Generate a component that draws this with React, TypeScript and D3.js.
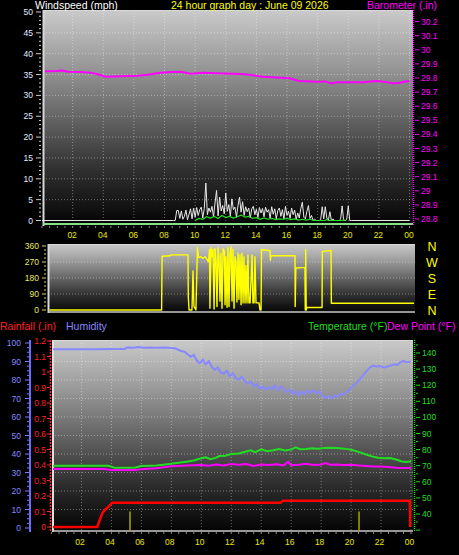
import React from 'react';
import * as d3 from 'd3';

// ---------- DATA ----------
const hourTicks = [2, 4, 6, 8, 10, 12, 14, 16, 18, 20, 22, 24];
const hourLabels = ['02', '04', '06', '08', '10', '12', '14', '16', '18', '20', '22', '00'];
const windTicks = [0, 5, 10, 15, 20, 25, 30, 35, 40, 45, 50];
const baroTicks = [28.8, 28.9, 29.0, 29.1, 29.2, 29.3, 29.4, 29.5, 29.6, 29.7, 29.8, 29.9, 30.0, 30.1, 30.2];
const baroLabels = ['28.8', '28.9', '29', '29.1', '29.2', '29.3', '29.4', '29.5', '29.6', '29.7', '29.8', '29.9', '30', '30.1', '30.2'];
const dirTicks = [0, 90, 180, 270, 360];
const compassLabels = ['N', 'E', 'S', 'W', 'N'];
const humTicks = [0, 10, 20, 30, 40, 50, 60, 70, 80, 90, 100];
const rainTicks = [0, 0.1, 0.2, 0.3, 0.4, 0.5, 0.6, 0.7, 0.8, 0.9, 1.0, 1.1, 1.2];
const rainLabels = ['0', '0.1', '0.2', '0.3', '0.4', '0.5', '0.6', '0.7', '0.8', '0.9', '1', '1.1', '1.2'];
const tempTicks = [40, 50, 60, 70, 80, 90, 100, 110, 120, 130, 140];

// barometer [hour, inHg]
const barometer: [number, number][] = [
  [0.2, 29.848], [1.0, 29.85], [1.34, 29.853], [1.67, 29.845], [2.5, 29.842], [3.17, 29.838], [3.7, 29.825],
  [4.15, 29.809], [5.13, 29.812], [6.24, 29.816], [6.9, 29.823], [7.74, 29.838], [8.5, 29.842], [9.05, 29.845],
  [9.7, 29.83], [10.55, 29.838], [11.4, 29.834], [12.3, 29.83], [13.0, 29.828], [13.55, 29.823], [14.4, 29.809],
  [15.3, 29.804], [16.17, 29.798], [16.8, 29.779], [17.9, 29.774], [18.5, 29.776], [18.9, 29.762], [19.3, 29.77],
  [21.0, 29.77], [21.8, 29.778], [22.2, 29.776], [22.9, 29.762], [23.3, 29.765], [23.8, 29.777], [24.0, 29.775],
];

// gust samples every 0.1 h starting 8.7 h
const gustStart = 8.7;
const gustValues = [
  0, 2.4, 2.4, 0.5, 2.3, 0.3, 1.0, 2.5, 0.2, 1.5, 2.8, 0.4, 3.0,
  0.8, 3.1, 1.2, 2.6, 3.2, 0.6, 2.9, 9.0, 1.4, 3.0,
  2.0, 3.4, 0.9, 4.2, 7.2, 1.1, 5.6, 2.3, 3.6, 1.6,
  6.6, 2.2, 3.8, 1.0, 5.2, 2.6, 3.2, 0.8, 3.6, 5.6,
  2.0, 4.5, 1.2, 3.3, 2.1, 3.0, 0.6, 2.8, 3.4, 1.4,
  2.7, 0.7, 3.1, 1.8, 2.9, 0.9, 3.2, 2.0, 2.6, 0.5,
  3.3, 1.5, 2.8, 0.4, 2.4, 3.0, 1.0, 2.6, 0.3, 3.4,
  1.2, 2.2, 0.5, 3.0, 1.4, 2.5, 0.2, 1.8, 0.6, 2.8,
  4.4, 0.8, 0.4, 2.2, 3.6, 0.5, 1.2, 0, 0.3, 0,
  0, 0, 0.2, 3.3, 0.4, 3.3, 0.6, 0, 2.1, 0,
  0.4, 0, 0, 0, 0, 0.3, 3.5, 0, 0, 0.2,
  3.5, 0, 0,
];

// average wind [hour, mph]
const avgWind: [number, number][] = [
  [10.0, 0], [10.25, 0.5], [10.5, 0.3], [10.75, 0.9], [11.0, 0.6], [11.25, 1.0], [11.5, 0.5], [11.75, 1.2],
  [12.0, 0.7], [12.25, 1.0], [12.5, 0.6], [12.75, 0.9], [13.0, 1.3], [13.25, 0.8], [13.5, 1.0], [13.75, 0.5],
  [14.0, 0.7], [14.25, 0.3], [14.5, 0.6], [14.75, 0.3], [15.0, 0.5], [15.25, 0.2], [15.5, 0.4], [15.75, 0.3],
  [16.0, 0.5], [16.25, 0.2], [16.5, 0.4], [16.75, 0.1], [17.0, 0.3], [17.25, 0.1], [17.5, 0.3], [17.75, 0],
  [18.5, 0], [18.6, 0.3], [18.7, 0], [19.6, 0], [19.7, 0.2], [19.8, 0],
];

// wind direction [hour, degrees]
const windDir: [number, number][] = [
  [0.1, 0], [7.45, 0], [7.48, 302], [8.0, 305], [8.1, 310], [9.18, 310], [9.2, 75], [9.25, 0], [9.44, 0],
  [9.51, 220], [9.57, 20], [9.7, 0], [9.8, 350], [9.87, 295], [10.03, 300], [10.16, 290], [10.3, 300],
  [10.43, 285], [10.52, 270], [10.59, 340], [10.62, 10], [10.69, 350], [10.75, 300], [10.82, 340], [10.89, 5],
  [10.95, 345], [11.02, 280], [11.08, 20], [11.15, 350], [11.21, 300], [11.28, 50], [11.34, 320], [11.41, 10],
  [11.48, 345], [11.57, 330], [11.61, 30], [11.67, 300], [11.74, 15], [11.8, 350], [11.87, 20], [11.93, 310],
  [12.0, 355], [12.07, 50], [12.13, 340], [12.2, 10], [12.26, 300], [12.33, 270], [12.39, 45], [12.46, 320],
  [12.52, 60], [12.59, 310], [12.66, 30], [12.72, 320], [12.79, 40], [12.85, 300], [12.92, 40], [12.98, 250],
  [13.05, 40], [13.11, 310], [13.18, 40], [13.25, 40], [13.38, 310], [13.44, 40], [13.51, 40], [13.57, 300],
  [13.64, 40], [13.84, 40], [13.9, 0], [13.97, 0], [14.0, 340], [14.5, 335], [14.56, 335], [14.58, 280],
  [14.62, 305], [16.2, 305], [16.21, 20], [16.25, 236], [16.85, 240], [16.87, 0], [16.9, 340], [16.93, 0],
  [16.97, 14], [17.97, 14], [17.99, 330], [18.56, 335], [18.58, 38], [24.0, 38],
];

// humidity [hour, %]
const humidity: [number, number][] = [
  [0.1, 96.6], [1, 96.6], [2, 96.6], [3, 96.6], [4, 96.7], [4.9, 96.7], [5.0, 97.5], [5.5, 97.4], [5.8, 97.8],
  [6.2, 97.4], [6.6, 97.6], [7, 97.5], [7.5, 97.6], [8.0, 97.3], [8.3, 97.0], [8.6, 95.8], [8.9, 95.2],
  [9.1, 93.8], [9.3, 92.5], [9.5, 93.5], [9.7, 90.5], [9.9, 89.0], [10.1, 91.0], [10.3, 88.5], [10.5, 90.2],
  [10.7, 87.0], [10.9, 85.5], [11.1, 86.8], [11.3, 84.0], [11.5, 83.5], [11.7, 85.0], [11.9, 82.0], [12.1, 83.6],
  [12.3, 81.0], [12.5, 80.2], [12.7, 81.8], [12.9, 79.5], [13.1, 78.0], [13.3, 79.2], [13.5, 76.5], [13.7, 77.8],
  [13.9, 75.2], [14.1, 76.5], [14.3, 74.8], [14.5, 76.2], [14.7, 75.0], [14.9, 77.0], [15.1, 74.5], [15.3, 76.5],
  [15.5, 75.2], [15.7, 73.5], [15.9, 74.8], [16.1, 72.5], [16.3, 74.0], [16.5, 71.8], [16.7, 73.8], [16.9, 72.2],
  [17.1, 74.5], [17.3, 73.0], [17.5, 74.5], [17.7, 72.8], [17.9, 73.8], [18.1, 71.5], [18.3, 70.2], [18.5, 71.2],
  [18.7, 70.0], [18.9, 71.8], [19.1, 71.0], [19.3, 72.5], [19.5, 72.2], [19.7, 73.5], [19.9, 75.0], [20.1, 76.8],
  [20.3, 78.0], [20.5, 79.5], [20.7, 81.5], [20.9, 83.5], [21.1, 85.5], [21.3, 87.0], [21.5, 87.8], [21.7, 87.2],
  [21.9, 87.5], [22.1, 87.0], [22.3, 86.8], [22.5, 87.5], [22.7, 88.0], [22.9, 88.5], [23.1, 88.2], [23.3, 89.5],
  [23.5, 90.3], [23.7, 89.6], [23.9, 89.8], [24, 90.0],
];

// temperature [hour, °F]
const temperature: [number, number][] = [
  [0.1, 70], [1, 70], [2, 70], [3, 70], [3.8, 69.9], [4.2, 68.8], [5, 68.8], [5.6, 68.9], [6, 69.8], [7, 70.2],
  [8, 71.2], [8.5, 71.8], [9, 72.5], [9.5, 73.2], [10, 74.6], [10.3, 75.2], [10.6, 74], [11, 75], [11.2, 76],
  [11.6, 76.2], [12, 77.3], [12.5, 77.6], [13, 78.8], [13.3, 79.5], [13.6, 78.4], [14, 80.2], [14.4, 79.0],
  [14.8, 79.6], [15.2, 80.4], [15.6, 79.5], [16, 80.0], [16.3, 81.4], [16.6, 80.2], [17, 80.4], [17.4, 80.9],
  [17.8, 80.5], [18.2, 81.0], [18.6, 81.1], [19, 81.0], [19.4, 80.7], [19.8, 80.3], [20.2, 79.4], [20.6, 78.3],
  [21, 77.0], [21.4, 75.8], [21.8, 74.9], [22.2, 74.6], [22.6, 74.8], [23, 73.8], [23.4, 72.6], [23.7, 72.3],
  [24, 72.8],
];

// dew point [hour, °F]
const dewPoint: [number, number][] = [
  [0.1, 68], [2, 68], [3.5, 68], [4, 67.4], [5.5, 67.3], [6, 67.8], [7, 68.4], [8, 69.6], [9, 70.2], [10, 70.5],
  [10.5, 70.0], [11, 70.8], [11.5, 70.2], [12, 71.1], [12.5, 70.6], [13, 71.0], [13.5, 69.8], [14, 70.8],
  [14.5, 70.4], [15, 70.9], [15.5, 70.2], [15.8, 72.4], [16, 70.3], [16.5, 70.6], [17, 71.2], [17.5, 70.4],
  [18, 70.8], [18.3, 71.6], [18.6, 70.6], [19, 70.7], [19.5, 70.4], [20, 70.6], [20.5, 70.1], [21, 69.8],
  [21.5, 69.5], [22, 69.5], [22.5, 69.2], [23, 68.8], [23.5, 68.6], [24, 68.5],
];

// rainfall [hour, in]
const rainfall: [number, number][] = [
  [0.1, 0], [3.05, 0], [3.2, 0.04], [3.4, 0.09], [3.55, 0.11], [3.8, 0.13], [4.05, 0.157], [15.3, 0.157],
  [15.45, 0.17], [23.92, 0.17], [23.95, 0],
];

// rain rate bars [hour, value]
const rainRate: [number, number][] = [[5.24, 0.1], [20.53, 0.1]];

// ---------- LAYOUT ----------
const W = 459, H = 555;
const FONT = "'Liberation Sans', Arial, sans-serif";

const top = { x0: 43, x1: 413, y0: 10, y1: 226 };
const mid = { x0: 48, x1: 415, y0: 244, y1: 313 };
const bot = { x0: 52, x1: 413, y0: 340, y1: 532 };

const xTop = d3.scaleLinear().domain([0, 24]).range([42, 409.5]);
const xMid = d3.scaleLinear().domain([0, 24]).range([48, 414]);
const xBot = d3.scaleLinear().domain([0, 24]).range([51.5, 411]);

const yWind = d3.scaleLinear().domain([0, 50]).range([220.5, 12]);
const yBaro = d3.scaleLinear().domain([28.8, 30.2]).range([219, 21.6]);
const yDir = d3.scaleLinear().domain([0, 360]).range([310, 246]);
const yRain = d3.scaleLinear().domain([0, 1.2]).range([527, 341]);
const yHum = d3.scaleLinear().domain([0, 100]).range([528, 343]);
const yTemp = d3.scaleLinear().domain([40, 140]).range([514, 353]);

function lineOf(data: [number, number][], x: d3.ScaleLinear<number, number>, y: d3.ScaleLinear<number, number>) {
  return d3.line<[number, number]>().x(d => x(d[0])).y(d => y(d[1]))(data) || '';
}

const gustSeries: [number, number][] = [
  [0, 0], [gustStart - 0.1, 0],
  ...gustValues.map((v, i) => [gustStart + i * 0.1, v] as [number, number]),
  [24, 0],
];

const halfHours = d3.range(0, 48.5, 1).map(i => i / 2);

function PanelBg({ id, p }: { id: string; p: { x0: number; x1: number; y0: number; y1: number } }) {
  return (
    <>
      <defs>
        <linearGradient id={id} x1="0" y1="0" x2="0" y2="1">
          <stop offset="0" stopColor="#cacaca" />
          <stop offset="0.25" stopColor="#9a9a9a" />
          <stop offset="0.5" stopColor="#646464" />
          <stop offset="0.75" stopColor="#2e2e2e" />
          <stop offset="1" stopColor="#030303" />
        </linearGradient>
      </defs>
      <rect x={p.x0} y={p.y0} width={p.x1 - p.x0} height={p.y1 - p.y0} fill={`url(#${id})`} />
    </>
  );
}

export default function App() {
  const gridStroke = 'rgba(255,255,255,0.38)';
  return (
    <svg width={W} height={H} style={{ position: 'absolute', left: 0, top: 0, background: '#000' }} fontFamily={FONT}>
      <rect x={0} y={0} width={W} height={H} fill="#000" />

      {/* ===== TOP PANEL ===== */}
      <PanelBg id="gTop" p={top} />
      {windTicks.filter(t => t > 0 && t < 50).map(t => (
        <line key={'tg' + t} x1={top.x0} x2={top.x1} y1={yWind(t)} y2={yWind(t)} stroke={gridStroke} strokeDasharray="1,2" />
      ))}
      {hourTicks.map(h => (
        <line key={'tv' + h} x1={xTop(h)} x2={xTop(h)} y1={top.y0} y2={top.y1} stroke={gridStroke} strokeDasharray="1,2" />
      ))}
      {/* borders */}
      <line x1={top.x0} x2={top.x1} y1={top.y0 + 0.5} y2={top.y0 + 0.5} stroke="#d8d8d8" />
      <line x1={top.x0 + 0.5} x2={top.x0 + 0.5} y1={top.y0} y2={top.y1} stroke="#d8d8d8" strokeWidth={2} />
      <line x1={top.x0} x2={top.x1} y1={224} y2={224} stroke="#88dd88" strokeWidth={2} />
      {/* barometer */}
      <path d={lineOf(barometer, xTop, yBaro)} fill="none" stroke="#ff00ff" strokeWidth={2} />
      {/* gust */}
      <path d={lineOf(gustSeries, xTop, yWind)} fill="none" stroke="#e8e8e8" strokeWidth={1} />
      {/* average */}
      <path d={lineOf(avgWind, xTop, yWind)} fill="none" stroke="#22dd22" strokeWidth={1.2} />
      {/* left axis */}
      {d3.range(0, 51).map(v => (
        <line key={'wm' + v} x1={v % 5 === 0 ? 36 : 39} x2={41} y1={yWind(v)} y2={yWind(v)} stroke="#cccccc" />
      ))}
      {windTicks.map(t => (
        <text key={'wl' + t} x={33} y={yWind(t) + 3} fontSize={8.5} fill="#e4ecff" textAnchor="end">{t}</text>
      ))}
      {/* right axis barometer */}
      <line x1={413.5} x2={413.5} y1={top.y0} y2={top.y1} stroke="#ff00ff" strokeWidth={1.5} strokeDasharray="1,1" />
      {baroTicks.map((t, i) => (
        <g key={'bl' + t}>
          <line x1={415} x2={419} y1={yBaro(t)} y2={yBaro(t)} stroke="#ff00ff" />
          <text x={421} y={yBaro(t) + 3} fontSize={8.5} fill="#ff00ff">{baroLabels[i]}</text>
        </g>
      ))}
      {/* x ticks & labels */}
      {halfHours.map(h => (
        <line key={'tx' + h} x1={xTop(h)} x2={xTop(h)} y1={226} y2={228} stroke="#888" />
      ))}
      {hourTicks.map((h, i) => (
        <text key={'txl' + h} x={xTop(h) - 0.5} y={238} fontSize={8.5} fill="#e8e800" textAnchor="middle">{hourLabels[i]}</text>
      ))}
      {/* titles */}
      <text x={35} y={9} fontSize={10.5} fill="#ffffff">Windspeed (mph)</text>
      <text x={171} y={9} fontSize={10.5} fill="#ffff00">24 hour graph day : June 09 2026</text>
      <text x={367} y={9} fontSize={10.5} fill="#ff00ff">Barometer (.in)</text>

      {/* ===== MIDDLE PANEL ===== */}
      <PanelBg id="gMid" p={mid} />
      {dirTicks.filter(t => t > 0 && t < 360).map(t => (
        <line key={'mg' + t} x1={mid.x0} x2={mid.x1} y1={yDir(t)} y2={yDir(t)} stroke={gridStroke} strokeDasharray="1,2" />
      ))}
      <line x1={mid.x0} x2={mid.x1} y1={mid.y0 + 0.5} y2={mid.y0 + 0.5} stroke="#d8d8d8" />
      <line x1={mid.x0 + 0.5} x2={mid.x0 + 0.5} y1={mid.y0} y2={mid.y1} stroke="#d8d8d8" strokeWidth={2} />
      <line x1={mid.x0} x2={mid.x1} y1={mid.y1 - 1} y2={mid.y1 - 1} stroke="#c8c8c8" strokeWidth={1.5} />
      <path d={lineOf(windDir, xMid, yDir)} fill="none" stroke="#ffff00" strokeWidth={1.4} strokeLinejoin="round" />
      {d3.range(0, 361, 22.5).map(v => (
        <line key={'dm' + v} x1={v % 90 === 0 ? 42 : 44} x2={46} y1={yDir(v)} y2={yDir(v)} stroke="#d8d860" />
      ))}
      {dirTicks.map(t => (
        <text key={'dl' + t} x={39} y={yDir(t) + 3} fontSize={8.5} fill="#e8e860" textAnchor="end">{t}</text>
      ))}
      {dirTicks.map((t, i) => (
        <text key={'cl' + t} x={432} y={yDir(t) + 4.5} fontSize={12.5} fill="#ffff00" textAnchor="middle">{compassLabels[i]}</text>
      ))}

      {/* ===== BOTTOM PANEL ===== */}
      <PanelBg id="gBot" p={bot} />
      {humTicks.filter(t => t > 0 && t < 100).map(t => (
        <line key={'bg' + t} x1={bot.x0} x2={bot.x1} y1={yHum(t)} y2={yHum(t)} stroke={gridStroke} strokeDasharray="1,2" />
      ))}
      {hourTicks.map(h => (
        <line key={'bv' + h} x1={xBot(h)} x2={xBot(h)} y1={bot.y0} y2={bot.y1} stroke={gridStroke} strokeDasharray="1,2" />
      ))}
      <line x1={bot.x0} x2={bot.x1} y1={bot.y0 + 0.5} y2={bot.y0 + 0.5} stroke="#d8d8d8" />
      <line x1={bot.x0 + 1} x2={bot.x0 + 1} y1={bot.y0} y2={bot.y1} stroke="#e0e0e0" strokeWidth={2} />
      <line x1={bot.x0} x2={bot.x1} y1={bot.y1 - 1} y2={bot.y1 - 1} stroke="#c8c8c8" strokeWidth={1.5} />
      {/* rain rate bars */}
      {rainRate.map(([h, v]) => (
        <line key={'rr' + h} x1={xBot(h)} x2={xBot(h)} y1={yRain(v)} y2={bot.y1 - 1} stroke="#a8a800" strokeWidth={1.5} />
      ))}
      <path d={lineOf(humidity, xBot, yHum)} fill="none" stroke="#8888ff" strokeWidth={2} />
      <path d={lineOf(dewPoint, xBot, yTemp)} fill="none" stroke="#ff00ff" strokeWidth={2} />
      <path d={lineOf(temperature, xBot, yTemp)} fill="none" stroke="#22dd22" strokeWidth={2} />
      <path d={lineOf(rainfall, xBot, yRain)} fill="none" stroke="#ff0000" strokeWidth={2.5} />
      {/* humidity axis */}
      <line x1={30} x2={30} y1={bot.y0} y2={bot.y1} stroke="#6c6cff" strokeWidth={2} />
      {d3.range(0, 101, 2.5).map(v => (
        <line key={'hm' + v} x1={v % 10 === 0 ? 25 : 27} x2={29} y1={yHum(v)} y2={yHum(v)} stroke="#7c7cff" />
      ))}
      {humTicks.map(t => (
        <text key={'hl' + t} x={21} y={yHum(t) + 3} fontSize={8.5} fill="#8888ff" textAnchor="end">{t}</text>
      ))}
      {/* rain axis */}
      <line x1={50.5} x2={50.5} y1={bot.y0} y2={bot.y1} stroke="#ff2020" strokeWidth={1.5} strokeDasharray="2,1" />
      {rainTicks.map((t, i) => (
        <g key={'rl' + t}>
          <line x1={47} x2={50} y1={yRain(t)} y2={yRain(t)} stroke="#ff2020" />
          <text x={46} y={yRain(t) + 3} fontSize={8.5} fill="#ff2020" textAnchor="end">{rainLabels[i]}</text>
        </g>
      ))}
      {/* temperature axis */}
      <line x1={414.5} x2={414.5} y1={bot.y0} y2={bot.y1} stroke="#22dd22" strokeWidth={1.5} strokeDasharray="1,1" />
      {d3.range(30, 146, 5).map(v => (
        <line key={'tm' + v} x1={416} x2={v % 10 === 0 ? 420 : 418} y1={yTemp(v)} y2={yTemp(v)} stroke="#22dd22" />
      ))}
      {tempTicks.map(t => (
        <text key={'tl' + t} x={422} y={yTemp(t) + 3} fontSize={8.5} fill="#22dd22">{t}</text>
      ))}
      {/* x ticks & labels */}
      {halfHours.map(h => (
        <line key={'bx' + h} x1={xBot(h)} x2={xBot(h)} y1={532} y2={534} stroke="#888" />
      ))}
      {hourTicks.map((h, i) => (
        <text key={'bxl' + h} x={xBot(h) - 1.5} y={545} fontSize={8.5} fill="#e8e800" textAnchor="middle">{hourLabels[i]}</text>
      ))}
      {/* titles */}
      <text x={0} y={330} fontSize={10.5} fill="#ff2020">Rainfall (.in)</text>
      <text x={66} y={330} fontSize={10.5} fill="#8888ff">Humidity</text>
      <text x={308} y={330} fontSize={10.5} fill="#22dd22">Temperature (°F)</text>
      <text x={387} y={330} fontSize={10.5} fill="#ff00ff">Dew Point (°F)</text>
    </svg>
  );
}
